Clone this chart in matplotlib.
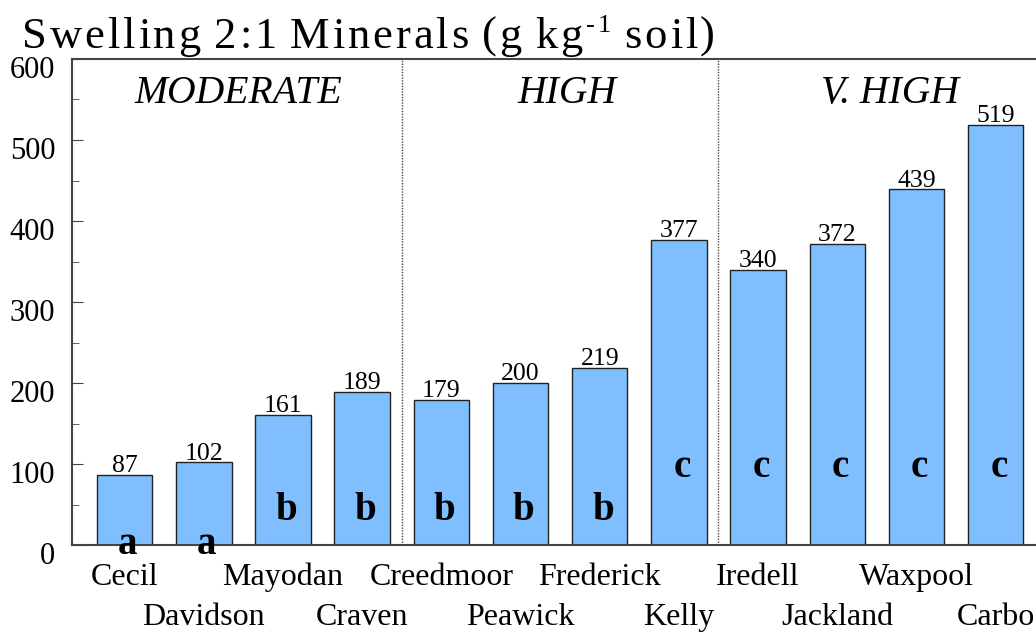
import numpy as np
import matplotlib
matplotlib.use("Agg")
import matplotlib.pyplot as plt
from matplotlib.transforms import IdentityTransform, ScaledTranslation

soils = ["Cecil", "Davidson", "Mayodan", "Craven", "Creedmoor", "Peawick",
         "Frederick", "Kelly", "Iredell", "Jackland", "Waxpool", "Carbo"]
minerals = [87, 102, 161, 189, 179, 200, 219, 377, 340, 372, 439, 519]
letters = ["a", "a", "b", "b", "b", "b", "b", "c", "c", "c", "c", "c"]
groups = ["MODERATE", "HIGH", "V. HIGH"]
group_edges = [3.5, 7.5]

plt.rcParams['font.family'] = ['Liberation Serif', 'DejaVu Serif']

W, H = 1036, 634
fig = plt.figure(figsize=(W / 100, H / 100), dpi=100)
ax = fig.add_axes([72 / W, 1 - 545 / H, 1 - 72 / W, (545 - 59) / H])

x = np.arange(len(soils))
ax.bar(x, minerals, width=0.7, color="#80bfff", edgecolor="#222222",
       linewidth=1.0, zorder=2)

ax.set_xlim(-0.665, 11.51)
ax.set_ylim(0, 600)

# value on top of each bar
for xi, v in zip(x, minerals):
    ax.text(xi, v - 3, str(v), ha="center", va="bottom", fontsize=18.5)

# significance letters inside the bars
letter_height = {"a": 0, "b": 43, "c": 96}
for xi, lt in zip(x, letters):
    ax.text(xi + 0.04, letter_height[lt], lt, ha="center", va="center",
            fontsize=28, fontweight="bold", zorder=3)

# dotted group dividers
for e in group_edges:
    ax.axvline(e, color="#444444", linestyle=(0, (1, 1)), linewidth=1.0, zorder=1)

group_pos = [1.43, 5.59, 9.66]
for g, gx in zip(groups, group_pos):
    ax.text(gx, 558, g, ha="center", va="center", fontsize=28.5, style="italic")

# staggered soil names below the axis
ax.set_xticks(x)
ax.set_xticklabels([])
ax.tick_params(axis="x", length=0)
for xi, name in zip(x, soils):
    yoff = -0.066 if xi % 2 == 0 else -0.15
    ax.text(xi, yoff, name, transform=ax.get_xaxis_transform(), ha="center",
            va="center", fontsize=23, clip_on=False)

ax.set_yticks(np.arange(0, 601, 100))
ax.set_yticks(np.arange(50, 600, 100), minor=True)
ax.tick_params(axis="y", which="major", direction="in", length=8, pad=12,
               labelsize=22, color="#444444")
ax.tick_params(axis="y", which="minor", direction="in", length=5, color="#444444")
shift = ScaledTranslation(0, -8 / 100, fig.dpi_scale_trans)
for lab in ax.get_yticklabels():
    lab.set_transform(lab.get_transform() + shift)

for s in ["left", "bottom", "top"]:
    ax.spines[s].set_color("#444444")
    ax.spines[s].set_linewidth(1.5)
ax.spines["right"].set_visible(False)

# title drawn letter by letter so it can be tracked out like the original
title_parts = [("Swelling 2:1 Minerals (g kg", 32, 0), ("-1", 19, 16), (" soil)", 32, 0)]
x0, x1, base = 22, 715, H - 48
renderer = fig.canvas.get_renderer()
chars = []
for txt, fs, rise in title_parts:
    for ch in txt:
        t = fig.text(0, 0, ch, fontsize=fs, transform=IdentityTransform(),
                     ha="left", va="baseline")
        if ch == " ":
            w = fs * 0.25
        else:
            w = t.get_window_extent(renderer).width
        chars.append((t, w, rise))
natural = sum(w for _, w, _ in chars)
track = (x1 - x0 - natural) / (len(chars) - 1)
cx = x0
for t, w, rise in chars:
    t.set_position((cx, base + rise))
    cx += w + track

fig.savefig("out.png", dpi=100)
